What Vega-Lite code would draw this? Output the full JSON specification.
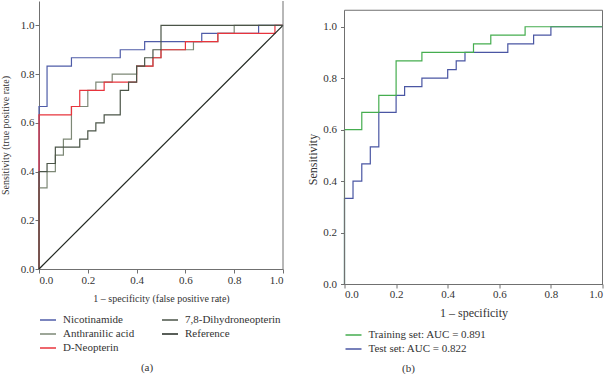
{
  "$schema": "https://vega.github.io/schema/vega-lite/v6.json",
  "padding": 0,
  "spacing": 20.5,
  "background": "white",
  "config": {
    "font": "Liberation Serif",
    "view": {"stroke": null},
    "axis": {
      "grid": false,
      "domainColor": "#707070",
      "tickColor": "#707070",
      "tickSize": 4,
      "labelColor": "#333333",
      "titleColor": "#333333",
      "labelFont": "Liberation Serif",
      "titleFont": "Liberation Serif",
      "labelFontSize": 11,
      "titleFontWeight": "normal"
    },
    "legend": {
      "orient": "bottom",
      "symbolType": "stroke",
      "symbolSize": 256,
      "symbolStrokeWidth": 1.5,
      "labelFont": "Liberation Serif",
      "labelFontSize": 11,
      "labelColor": "#333333",
      "labelOffset": 6,
      "rowPadding": 0,
      "columnPadding": 24,
      "offset": 8
    },
    "title": {"font": "Liberation Serif", "fontWeight": "normal", "fontSize": 11, "color": "#333333"}
  },
  "resolve": {"scale": {"color": "independent", "x": "independent", "y": "independent"}, "legend": {"color": "independent"}},
  "datasets": {
    "left": [
      {"series": "Nicotinamide", "idx": 0, "fpr": 0, "tpr": 0},
      {"series": "Nicotinamide", "idx": 1, "fpr": 0, "tpr": 0.667},
      {"series": "Nicotinamide", "idx": 2, "fpr": 0.033, "tpr": 0.833},
      {"series": "Nicotinamide", "idx": 3, "fpr": 0.133, "tpr": 0.867},
      {"series": "Nicotinamide", "idx": 4, "fpr": 0.333, "tpr": 0.9},
      {"series": "Nicotinamide", "idx": 5, "fpr": 0.433, "tpr": 0.933},
      {"series": "Nicotinamide", "idx": 6, "fpr": 0.667, "tpr": 0.967},
      {"series": "Nicotinamide", "idx": 7, "fpr": 0.9, "tpr": 1},
      {"series": "Nicotinamide", "idx": 8, "fpr": 1, "tpr": 1},
      {"series": "Anthranilic acid", "idx": 0, "fpr": 0, "tpr": 0},
      {"series": "Anthranilic acid", "idx": 1, "fpr": 0, "tpr": 0.333},
      {"series": "Anthranilic acid", "idx": 2, "fpr": 0.033, "tpr": 0.4},
      {"series": "Anthranilic acid", "idx": 3, "fpr": 0.067, "tpr": 0.467},
      {"series": "Anthranilic acid", "idx": 4, "fpr": 0.1, "tpr": 0.533},
      {"series": "Anthranilic acid", "idx": 5, "fpr": 0.133, "tpr": 0.667},
      {"series": "Anthranilic acid", "idx": 6, "fpr": 0.2, "tpr": 0.733},
      {"series": "Anthranilic acid", "idx": 7, "fpr": 0.233, "tpr": 0.767},
      {"series": "Anthranilic acid", "idx": 8, "fpr": 0.3, "tpr": 0.8},
      {"series": "Anthranilic acid", "idx": 9, "fpr": 0.4, "tpr": 0.833},
      {"series": "Anthranilic acid", "idx": 10, "fpr": 0.467, "tpr": 0.867},
      {"series": "Anthranilic acid", "idx": 11, "fpr": 0.5, "tpr": 0.9},
      {"series": "Anthranilic acid", "idx": 12, "fpr": 0.633, "tpr": 0.933},
      {"series": "Anthranilic acid", "idx": 13, "fpr": 0.733, "tpr": 0.967},
      {"series": "Anthranilic acid", "idx": 14, "fpr": 0.8, "tpr": 1},
      {"series": "Anthranilic acid", "idx": 15, "fpr": 1, "tpr": 1},
      {"series": "D-Neopterin", "idx": 0, "fpr": 0, "tpr": 0},
      {"series": "D-Neopterin", "idx": 1, "fpr": 0, "tpr": 0.633},
      {"series": "D-Neopterin", "idx": 2, "fpr": 0.133, "tpr": 0.667},
      {"series": "D-Neopterin", "idx": 3, "fpr": 0.167, "tpr": 0.733},
      {"series": "D-Neopterin", "idx": 4, "fpr": 0.267, "tpr": 0.767},
      {"series": "D-Neopterin", "idx": 5, "fpr": 0.4, "tpr": 0.833},
      {"series": "D-Neopterin", "idx": 6, "fpr": 0.467, "tpr": 0.867},
      {"series": "D-Neopterin", "idx": 7, "fpr": 0.5, "tpr": 0.9},
      {"series": "D-Neopterin", "idx": 8, "fpr": 0.6, "tpr": 0.933},
      {"series": "D-Neopterin", "idx": 9, "fpr": 0.733, "tpr": 0.967},
      {"series": "D-Neopterin", "idx": 10, "fpr": 0.967, "tpr": 1},
      {"series": "D-Neopterin", "idx": 11, "fpr": 1, "tpr": 1},
      {"series": "7,8-Dihydroneopterin", "idx": 0, "fpr": 0, "tpr": 0},
      {"series": "7,8-Dihydroneopterin", "idx": 1, "fpr": 0, "tpr": 0.4},
      {"series": "7,8-Dihydroneopterin", "idx": 2, "fpr": 0.033, "tpr": 0.433},
      {"series": "7,8-Dihydroneopterin", "idx": 3, "fpr": 0.067, "tpr": 0.5},
      {"series": "7,8-Dihydroneopterin", "idx": 4, "fpr": 0.167, "tpr": 0.533},
      {"series": "7,8-Dihydroneopterin", "idx": 5, "fpr": 0.2, "tpr": 0.567},
      {"series": "7,8-Dihydroneopterin", "idx": 6, "fpr": 0.233, "tpr": 0.6},
      {"series": "7,8-Dihydroneopterin", "idx": 7, "fpr": 0.267, "tpr": 0.633},
      {"series": "7,8-Dihydroneopterin", "idx": 8, "fpr": 0.333, "tpr": 0.733},
      {"series": "7,8-Dihydroneopterin", "idx": 9, "fpr": 0.367, "tpr": 0.767},
      {"series": "7,8-Dihydroneopterin", "idx": 10, "fpr": 0.4, "tpr": 0.833},
      {"series": "7,8-Dihydroneopterin", "idx": 11, "fpr": 0.433, "tpr": 0.867},
      {"series": "7,8-Dihydroneopterin", "idx": 12, "fpr": 0.467, "tpr": 0.9},
      {"series": "7,8-Dihydroneopterin", "idx": 13, "fpr": 0.5, "tpr": 1},
      {"series": "7,8-Dihydroneopterin", "idx": 14, "fpr": 1, "tpr": 1},
      {"series": "Reference", "idx": 0, "fpr": 0, "tpr": 0},
      {"series": "Reference", "idx": 1, "fpr": 1, "tpr": 1}
    ],
    "right": [
      {"series": "Test set: AUC = 0.822", "idx": 0, "fpr": 0, "tpr": 0},
      {"series": "Test set: AUC = 0.822", "idx": 1, "fpr": 0, "tpr": 0.333},
      {"series": "Test set: AUC = 0.822", "idx": 2, "fpr": 0.033, "tpr": 0.4},
      {"series": "Test set: AUC = 0.822", "idx": 3, "fpr": 0.067, "tpr": 0.467},
      {"series": "Test set: AUC = 0.822", "idx": 4, "fpr": 0.1, "tpr": 0.533},
      {"series": "Test set: AUC = 0.822", "idx": 5, "fpr": 0.133, "tpr": 0.667},
      {"series": "Test set: AUC = 0.822", "idx": 6, "fpr": 0.2, "tpr": 0.733},
      {"series": "Test set: AUC = 0.822", "idx": 7, "fpr": 0.233, "tpr": 0.767},
      {"series": "Test set: AUC = 0.822", "idx": 8, "fpr": 0.3, "tpr": 0.8},
      {"series": "Test set: AUC = 0.822", "idx": 9, "fpr": 0.4, "tpr": 0.833},
      {"series": "Test set: AUC = 0.822", "idx": 10, "fpr": 0.433, "tpr": 0.867},
      {"series": "Test set: AUC = 0.822", "idx": 11, "fpr": 0.467, "tpr": 0.9},
      {"series": "Test set: AUC = 0.822", "idx": 12, "fpr": 0.633, "tpr": 0.933},
      {"series": "Test set: AUC = 0.822", "idx": 13, "fpr": 0.733, "tpr": 0.967},
      {"series": "Test set: AUC = 0.822", "idx": 14, "fpr": 0.8, "tpr": 1},
      {"series": "Test set: AUC = 0.822", "idx": 15, "fpr": 1, "tpr": 1},
      {"series": "Training set: AUC = 0.891", "idx": 0, "fpr": 0, "tpr": 0},
      {"series": "Training set: AUC = 0.891", "idx": 1, "fpr": 0, "tpr": 0.6},
      {"series": "Training set: AUC = 0.891", "idx": 2, "fpr": 0.067, "tpr": 0.667},
      {"series": "Training set: AUC = 0.891", "idx": 3, "fpr": 0.133, "tpr": 0.733},
      {"series": "Training set: AUC = 0.891", "idx": 4, "fpr": 0.2, "tpr": 0.867},
      {"series": "Training set: AUC = 0.891", "idx": 5, "fpr": 0.3, "tpr": 0.9},
      {"series": "Training set: AUC = 0.891", "idx": 6, "fpr": 0.5, "tpr": 0.933},
      {"series": "Training set: AUC = 0.891", "idx": 7, "fpr": 0.567, "tpr": 0.967},
      {"series": "Training set: AUC = 0.891", "idx": 8, "fpr": 0.7, "tpr": 1},
      {"series": "Training set: AUC = 0.891", "idx": 9, "fpr": 1, "tpr": 1}
    ]
  },
  "hconcat": [
    {
      "width": 244,
      "height": 268,
      "title": {"text": "(a)", "orient": "bottom", "anchor": "middle", "dx": -14, "offset": 9},
      "layer": [
        {
          "data": {"name": "left"},
          "transform": [{"filter": "datum.series !== 'Reference'"}],
          "mark": {"type": "line", "interpolate": "step-after", "strokeWidth": 1.2},
          "encoding": {
            "x": {"field": "fpr", "type": "quantitative", "scale": {"domain": [0, 1], "nice": false},
                  "axis": {"values": [0, 0.2, 0.4, 0.6, 0.8, 1], "format": ".1f", "title": "1 – specificity (false positive rate)", "titleFontSize": 10, "labelPadding": 1, "titlePadding": 8}},
            "y": {"field": "tpr", "type": "quantitative", "scale": {"domain": [0, 1.1], "nice": false},
                  "axis": {"values": [0, 0.2, 0.4, 0.6, 0.8, 1], "format": ".1f", "title": "Sensitivity (true positive rate)", "titleFontSize": 10, "labelPadding": 1, "titlePadding": 9.5}},
            "color": {"field": "series", "type": "nominal",
                      "scale": {"domain": ["Nicotinamide", "7,8-Dihydroneopterin", "Anthranilic acid", "Reference", "D-Neopterin"],
                                "range": ["#4f5ca8", "#4b5548", "#7d8876", "#222822", "#e8343c"]},
                      "legend": {"title": null, "columns": 2}},
            "order": {"field": "idx", "type": "quantitative"}
          }
        },
        {
          "data": {"name": "left"},
          "transform": [{"filter": "datum.series === 'Reference'"}],
          "mark": {"type": "line", "strokeWidth": 1.2},
          "encoding": {
            "x": {"field": "fpr", "type": "quantitative"},
            "y": {"field": "tpr", "type": "quantitative"},
            "color": {"field": "series", "type": "nominal"}
          }
        },
        {
          "data": {"values": [{}]},
          "mark": {"type": "rule", "color": "#707070"},
          "encoding": {"x": {"datum": 1}, "y": {"datum": 0}, "y2": {"datum": 1.1}}
        }
      ]
    },
    {
      "width": 258,
      "height": 283,
      "title": {"text": "(b)", "orient": "bottom", "anchor": "middle", "dx": -65, "offset": 9},
      "layer": [
        {
          "data": {"name": "right"},
          "mark": {"type": "line", "interpolate": "step-after", "strokeWidth": 1.2},
          "encoding": {
            "x": {"field": "fpr", "type": "quantitative", "scale": {"domain": [0, 1], "nice": false},
                  "axis": {"values": [0, 0.2, 0.4, 0.6, 0.8, 1], "format": ".1f", "title": "1 – specificity", "titleFontSize": 12, "labelPadding": 0, "titlePadding": 8}},
            "y": {"field": "tpr", "type": "quantitative", "scale": {"domain": [0, 1.1], "nice": false},
                  "axis": {"values": [0, 0.2, 0.4, 0.6, 0.8, 1], "format": ".1f", "title": "Sensitivity", "titleFontSize": 12, "domain": false, "labelPadding": 4, "titlePadding": 3, "titleY": 158}},
            "color": {"field": "series", "type": "nominal",
                      "scale": {"domain": ["Training set: AUC = 0.891", "Test set: AUC = 0.822"], "range": ["#45ad4f", "#4a56a3"]},
                      "legend": {"title": null, "columns": 1}},
            "order": {"field": "idx", "type": "quantitative"}
          }
        },
        {
          "data": {"values": [{}]},
          "mark": {"type": "rule", "color": "#707070"},
          "encoding": {"x": {"datum": 0}, "y": {"datum": 0}, "y2": {"datum": 1.064}}
        },
        {
          "data": {"values": [{}]},
          "mark": {"type": "rule", "color": "#707070"},
          "encoding": {"x": {"datum": 1}, "y": {"datum": 0}, "y2": {"datum": 1.064}}
        },
        {
          "data": {"values": [{}]},
          "mark": {"type": "rule", "color": "#707070"},
          "encoding": {"y": {"datum": 1.064}, "x": {"datum": 0}, "x2": {"datum": 1}}
        }
      ]
    }
  ]
}
